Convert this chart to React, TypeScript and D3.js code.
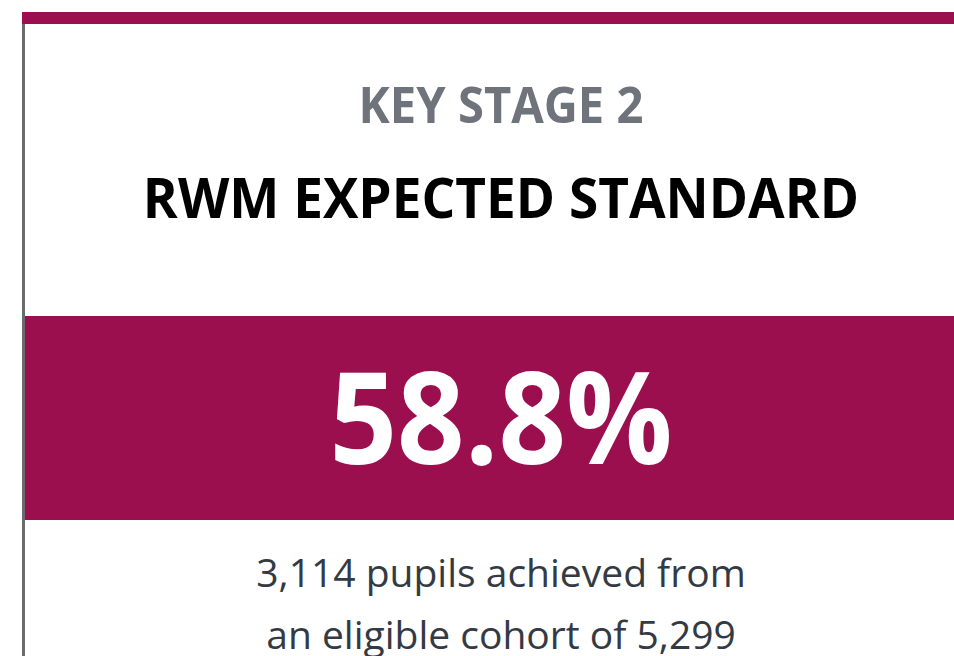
import { useEffect, useRef } from "react"
import * as d3 from "d3"

const headings = ["KEY STAGE 2", "RWM EXPECTED STANDARD"]
const achieved = [3114]
const cohort = [5299]

const W = 954
const H = 656
const maroon = "#9b0f4f"

export default function App() {
  const svgRef = useRef<SVGSVGElement>(null)

  useEffect(() => {
    if (!svgRef.current) return
    const svg = d3.select(svgRef.current)
    svg.selectAll("*").remove()

    const cx = 501
    const pct = achieved[0] / cohort[0]
    const fmtPct = d3.format(".1%")
    const fmtInt = d3.format(",")

    // narrower glyphs, like the original's font
    const label = (y: number, size: number, sx: number, fill: string, weight: number, t: string) =>
      svg.append("text")
        .attr("transform", `translate(${cx},${y}) scale(${sx},1)`)
        .attr("text-anchor", "middle")
        .attr("font-family", "'Open Sans', sans-serif")
        .attr("font-weight", weight)
        .attr("font-size", size)
        .attr("fill", fill)
        .text(t)

    // card frame
    svg.append("rect").attr("x", 22).attr("y", 12).attr("width", 3).attr("height", H - 12).attr("fill", "#6b6b6b")
    svg.append("rect").attr("x", 22).attr("y", 12).attr("width", W - 22).attr("height", 12).attr("fill", maroon)

    label(123, 50, 0.943, "#6f737c", 700, headings[0])
    label(218, 55, 0.966, "#000", 700, headings[1])

    // value band
    svg.append("rect").attr("x", 25).attr("y", 316).attr("width", W - 25).attr("height", 204).attr("fill", maroon)
    label(464, 128, 0.924, "#fff", 700, fmtPct(pct))

    // footnote
    label(587, 39, 1, "#333a44", 400, `${fmtInt(achieved[0])} pupils achieved from`)
    label(649, 39, 1, "#333a44", 400, `an eligible cohort of ${fmtInt(cohort[0])}`)
  }, [])

  return (
    <div style={{ position: "absolute", left: 0, top: 0 }}>
      <svg ref={svgRef} width={W} height={H} style={{ display: "block", background: "#fff" }} />
    </div>
  )
}
